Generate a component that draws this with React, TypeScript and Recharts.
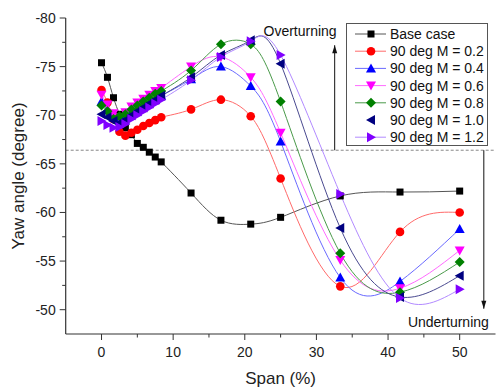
import { LineChart, Line, XAxis, YAxis, ReferenceLine, Legend } from "recharts";

const spans = [0, 0.83, 1.67, 2.5, 3.33, 4.17, 5, 5.83, 6.67, 7.5, 8.33, 12.5, 16.67, 20.83, 25, 33.33, 41.67, 50];

const baseCase = [-75.4, -73.9, -71.8, -70.1, -68.7, -68.0, -67.1, -66.7, -66.2, -65.7, -65.2, -62.0, -59.2, -58.8, -59.5, -61.7, -62.1, -62.2];
const m02 = [-72.6, -71.3, -69.6, -68.3, -67.9, -68.2, -68.5, -68.9, -69.2, -69.5, -69.8, -70.6, -71.6, -69.9, -63.5, -52.4, -58.0, -60.0];
const m04 = [-71.4, -70.5, -69.8, -69.6, -69.9, -70.3, -70.7, -71.0, -71.3, -71.6, -72.0, -73.7, -75.0, -73.0, -67.3, -53.3, -52.9, -58.3];
const m06 = [-72.1, -71.1, -70.2, -69.8, -70.3, -70.9, -71.3, -71.7, -72.1, -72.5, -72.8, -75.0, -76.0, -73.9, -68.2, -55.1, -52.2, -56.1];
const m08 = [-71.0, -70.4, -69.6, -69.9, -70.1, -70.6, -71.0, -71.4, -71.8, -72.2, -72.5, -74.6, -77.3, -77.3, -71.4, -55.8, -51.8, -54.9];
const m10 = [-70.1, -69.8, -69.4, -69.2, -69.5, -70.0, -70.4, -70.8, -71.2, -71.6, -72.0, -73.9, -76.2, -77.7, -75.3, -58.4, -51.3, -53.5];
const m12 = [-69.4, -69.0, -68.7, -68.8, -69.1, -69.6, -70.0, -70.4, -70.8, -71.2, -71.6, -73.6, -76.0, -77.6, -76.2, -61.9, -51.2, -52.1];

const xTicks = [0, 5, 10, 15, 20, 25, 30, 35, 40, 45, 50];
const yTicks = [-80, -77.5, -75, -72.5, -70, -67.5, -65, -62.5, -60, -57.5, -55, -52.5, -50];
const neutralYaw = -66.4;

type Shape = "square" | "circle" | "up" | "down" | "diamond" | "left" | "right";

const series: { key: string; name: string; values: number[]; color: string; line: string; shape: Shape; legendLine: boolean }[] = [
  { key: "base", name: "Base case", values: baseCase, color: "#000000", line: "#555555", shape: "square", legendLine: true },
  { key: "m02", name: "90 deg M = 0.2", values: m02, color: "#ff0000", line: "#ff6a6a", shape: "circle", legendLine: true },
  { key: "m04", name: "90 deg M = 0.4", values: m04, color: "#0000ff", line: "#6a6aff", shape: "up", legendLine: true },
  { key: "m06", name: "90 deg M = 0.6", values: m06, color: "#ff00ff", line: "#ff6aff", shape: "down", legendLine: true },
  { key: "m08", name: "90 deg M = 0.8", values: m08, color: "#008000", line: "#4a9a4a", shape: "diamond", legendLine: true },
  { key: "m10", name: "90 deg M = 1.0", values: m10, color: "#000080", line: "#4a4a90", shape: "left", legendLine: false },
  { key: "m12", name: "90 deg M = 1.2", values: m12, color: "#8000ff", line: "#b28aff", shape: "right", legendLine: true },
];

const data = spans.map((span, i) => {
  const row: Record<string, number> = { span };
  series.forEach((s) => (row[s.key] = s.values[i]));
  return row;
});

const FONT = "'Liberation Sans', Arial, sans-serif";

function Marker({ cx, cy, shape, color }: { cx: number; cy: number; shape: Shape; color: string }) {
  switch (shape) {
    case "square":
      return <rect x={cx - 3.5} y={cy - 3.5} width={7} height={7} fill={color} />;
    case "circle":
      return <circle cx={cx} cy={cy} r={4.3} fill={color} />;
    case "up":
      return <polygon points={`${cx},${cy - 5} ${cx - 5},${cy + 4} ${cx + 5},${cy + 4}`} fill={color} />;
    case "down":
      return <polygon points={`${cx},${cy + 5} ${cx - 5},${cy - 4} ${cx + 5},${cy - 4}`} fill={color} />;
    case "diamond":
      return <polygon points={`${cx},${cy - 5} ${cx + 5},${cy} ${cx},${cy + 5} ${cx - 5},${cy}`} fill={color} />;
    case "left":
      return <polygon points={`${cx - 5},${cy} ${cx + 4},${cy - 5} ${cx + 4},${cy + 5}`} fill={color} />;
    default:
      return <polygon points={`${cx + 5},${cy} ${cx - 4},${cy - 5} ${cx - 4},${cy + 5}`} fill={color} />;
  }
}

const BottomTick = (p: any) => {
  const { x, y, payload } = p;
  const major = payload.value % 10 === 0;
  return (
    <g>
      <line x1={x} x2={x} y1={y} y2={y + (major ? 6 : 3.5)} stroke="#333" />
      {major && (
        <text x={x} y={y + 23} textAnchor="middle" fontSize={14} fontFamily={FONT} fill="#222">
          {payload.value}
        </text>
      )}
    </g>
  );
};

const TopTick = (p: any) => {
  const { x, y, payload } = p;
  const major = payload.value % 10 === 0;
  return <line x1={x} x2={x} y1={y} y2={y - (major ? 6 : 3.5)} stroke="#333" />;
};

const LeftTick = (p: any) => {
  const { x, y, payload } = p;
  const major = payload.value % 5 === 0;
  return (
    <g>
      <line x1={x} x2={x - (major ? 6 : 3.5)} y1={y} y2={y} stroke="#333" />
      {major && (
        <text x={x - 10} y={y + 5} textAnchor="end" fontSize={14} fontFamily={FONT} fill="#222">
          {payload.value}
        </text>
      )}
    </g>
  );
};

const RightTick = (p: any) => {
  const { x, y, payload } = p;
  const major = payload.value % 5 === 0;
  return <line x1={x} x2={x + (major ? 6 : 3.5)} y1={y} y2={y} stroke="#333" />;
};

const arrow = (text: string, tx: number, ty: number) => (p: any) => {
  const { x1, y1, x2, y2 } = p;
  const up = y2 < y1;
  const s = up ? 1 : -1;
  return (
    <g>
      <line x1={x1} y1={y1} x2={x2} y2={y2} stroke="#111" strokeWidth={1} />
      <polygon points={`${x2},${y2} ${x2 - 2.5},${y2 + 8 * s} ${x2 + 2.5},${y2 + 8 * s}`} fill="#111" />
      <text x={x2 + tx} y={y2 + ty} textAnchor="end" fontSize={14} fontFamily={FONT} fill="#111">
        {text}
      </text>
    </g>
  );
};

function LegendBox() {
  return (
    <svg width={143} height={124} style={{ display: "block" }}>
      <rect x={0.5} y={0.5} width={141} height={122} fill="#fff" stroke="#555" />
      {series.map((s, i) => {
        const cy = 11 + i * 17.2;
        return (
          <g key={s.key}>
            {s.legendLine && <line x1={9} x2={40} y1={cy} y2={cy} stroke={s.line} />}
            <Marker cx={25} cy={cy} shape={s.shape} color={s.color} />
            <text x={44} y={cy + 5} fontSize={14} fontFamily={FONT} fill="#111">
              {s.name}
            </text>
          </g>
        );
      })}
    </svg>
  );
}

export default function App() {
  return (
    <div style={{ position: "absolute", left: 0, top: 0, width: 497, height: 387, background: "#fff" }}>
      <LineChart width={497} height={387} data={data} margin={{ top: 18, right: 1.5, bottom: 0, left: 0 }}>
        <XAxis
          dataKey="span"
          type="number"
          domain={[-5, 55]}
          ticks={xTicks}
          allowDataOverflow
          height={53}
          tickSize={0}
          tickMargin={0}
          tick={<BottomTick />}
          axisLine={{ stroke: "#333", strokeWidth: 1.2 }}
          label={{
            content: (p: any) => {
              const vb = p.viewBox;
              return (
                <text x={vb.x + vb.width / 2} y={vb.y + 50} textAnchor="middle" fontSize={17} fontFamily={FONT} fill="#222">
                  Span (%)
                </text>
              );
            },
          }}
        />
        <XAxis
          xAxisId="top"
          dataKey="span"
          type="number"
          orientation="top"
          domain={[-5, 55]}
          ticks={xTicks}
          allowDataOverflow
          height={0}
          tickSize={0}
          tickMargin={0}
          tick={<TopTick />}
          axisLine={{ stroke: "#333", strokeWidth: 1.2 }}
        />
        <YAxis
          type="number"
          domain={[-80, -47.5]}
          reversed
          ticks={yTicks}
          allowDataOverflow
          width={65.7}
          tickSize={0}
          tickMargin={0}
          tick={<LeftTick />}
          axisLine={{ stroke: "#333", strokeWidth: 1.2 }}
          label={{
            content: (p: any) => {
              const vb = p.viewBox;
              const cx = vb.x + 18;
              const cy = vb.y + vb.height / 2;
              return (
                <text x={cx} y={cy} transform={`rotate(-90 ${cx} ${cy})`} textAnchor="middle" dominantBaseline="central" fontSize={17} fontFamily={FONT} fill="#222">
                  Yaw angle (degree)
                </text>
              );
            },
          }}
        />
        <YAxis
          yAxisId="right"
          type="number"
          orientation="right"
          domain={[-80, -47.5]}
          reversed
          ticks={yTicks}
          allowDataOverflow
          width={0}
          tickSize={0}
          tickMargin={0}
          tick={<RightTick />}
          axisLine={{ stroke: "#333", strokeWidth: 1.2 }}
        />
        <ReferenceLine y={neutralYaw} stroke="#888" strokeDasharray="3 2" />
        <ReferenceLine
          segment={[
            { x: 32.55, y: neutralYaw },
            { x: 32.55, y: -77.2 },
          ]}
          shape={arrow("Overturning", 2, -9)}
        />
        <ReferenceLine
          segment={[
            { x: 53.37, y: neutralYaw },
            { x: 53.37, y: -50.1 },
          ]}
          shape={arrow("Underturning", 5, 18)}
        />
        {series.map((s) => (
          <Line
            key={s.key}
            dataKey={s.key}
            name={s.name}
            type="natural"
            stroke={s.line}
            strokeWidth={1}
            isAnimationActive={false}
            dot={(p: any) => <Marker key={`${s.key}-${p.index}`} cx={p.cx} cy={p.cy} shape={s.shape} color={s.color} />}
            activeDot={false}
          />
        ))}
        <Legend
          layout="vertical"
          align="center"
          verticalAlign="middle"
          content={() => <LegendBox />}
          wrapperStyle={{ position: "absolute", left: 346, top: 23, width: 143, height: 124 }}
        />
      </LineChart>
    </div>
  );
}
